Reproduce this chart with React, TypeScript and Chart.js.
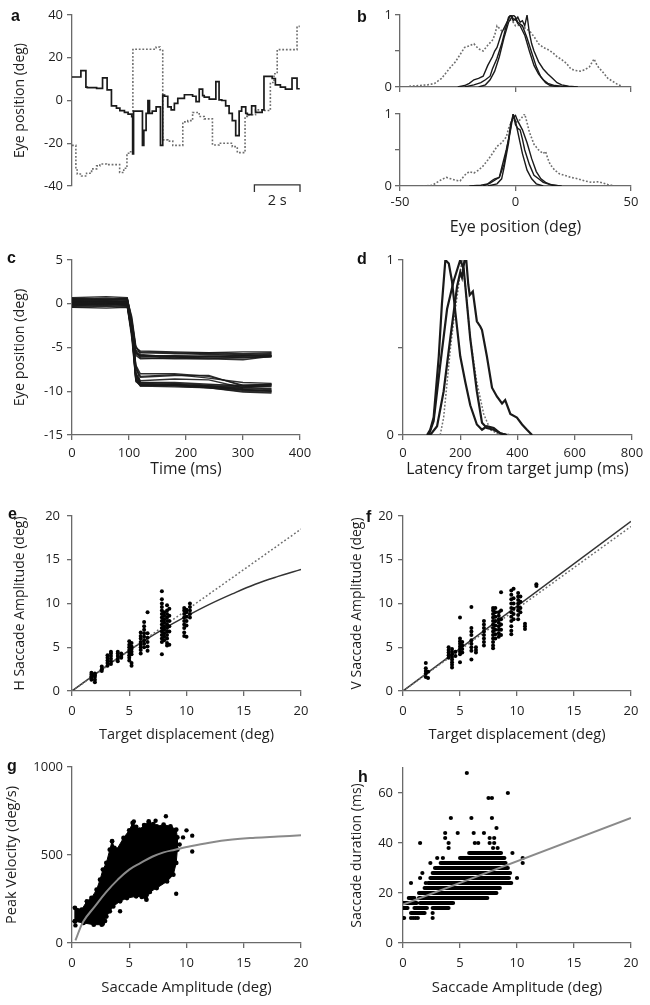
import React, { useEffect, useRef } from 'react';
import { Chart, registerables } from 'chart.js';
Chart.register(...registerables);

const FONT = '"Open Sans", "DejaVu Sans", sans-serif';
const AX = '#6a6a6a';
const TXT = '#1e1e1e';
const DARK = '#1a1a1a';
const GRAY = '#6e6e6e';

// ---------------- Panel a: eye position traces (time s, deg) ----------------
const aSolid: [number, number][] = [
  [0, 11], [0.39, 14], [0.61, 6.3], [0.67, 6], [1.08, 5.7], [1.34, 10.6], [1.54, 5], [1.73, -2.5],
  [1.95, -3.6], [2.1, -4.7], [2.3, -5.6], [2.46, -6.4], [2.62, -7.5], [2.66, -25], [2.7, -5], [3.04, -5],
  [3.09, -21], [3.15, -14], [3.25, -6], [3.33, 0], [3.4, -6], [3.52, -5], [3.69, -3], [3.88, -21],
  [3.98, 2.5], [4.06, 2], [4.2, -3], [4.35, -4.4], [4.49, -1.3], [4.64, 1], [4.93, 2.7], [5.29, 2],
  [5.44, -0.5], [5.58, 5.3], [5.73, 2.3], [5.8, 1.6], [6.02, 0.6], [6.31, 8.8], [6.45, 0.3], [6.57, 0],
  [6.74, -2.5], [6.89, -6], [7.03, -9.4], [7.18, -16.4], [7.33, -5], [7.44, -3], [7.62, -6], [7.69, -6.6],
  [7.88, -2.5], [8.05, -5.6], [8.34, -4.4], [8.42, 11.3], [8.78, 10.3], [8.92, 7.3], [9.14, 6.3],
  [9.36, 5.3], [9.65, 10.5], [9.87, 5.5], [9.99, 5.5],
];
const aDotted: [number, number][] = [
  [0, -21], [0.17, -32.5], [0.23, -34.4], [0.42, -35.3], [0.64, -34], [0.86, -32], [1.08, -30.6],
  [1.22, -29.7], [1.51, -30], [2.09, -33.7], [2.27, -31.7], [2.41, -24.7], [2.53, -24], [2.67, 23.8],
  [2.73, 24], [3.69, 25], [3.86, 23.8], [3.98, -18.4], [4.2, -19], [4.42, -21], [4.86, -10], [5.08, -9.4],
  [5.29, -5.6], [5.58, -7.5], [5.8, -8.6], [6.16, -20.8], [6.45, -20], [7.03, -21.6], [7.25, -24.4],
  [7.59, -7.5], [7.69, -6.7], [8.05, -4.4], [8.34, -4.7], [8.7, 8.4], [8.86, 12.5], [9.0, 23.8],
  [9.87, 34.7], [9.99, 34.7],
];
const aScaleBar: [number, number][] = [[8, -42.8], [8, -39.5], [10, -39.5], [10, -42.8]];
const aScaleBarLabel = '2 s';
const aScaleBarLabelY = -47;

// ---------------- Panel b: position distributions ----------------
const bTopDotted: [number, number][] = [
  [-46, 0.01], [-42, 0.02], [-38, 0.03], [-35, 0.05], [-32, 0.12], [-30, 0.2], [-28, 0.28], [-26, 0.35],
  [-24, 0.45], [-22, 0.55], [-20, 0.57], [-18, 0.6], [-16, 0.53], [-14, 0.5], [-12, 0.58], [-10, 0.65],
  [-9, 0.72], [-8, 0.85], [-6, 0.78], [-4, 0.82], [-3, 0.95], [-1, 0.9], [0, 0.85], [2, 0.86], [4, 0.82],
  [6, 0.78], [8, 0.7], [10, 0.6], [12, 0.55], [14, 0.52], [16, 0.48], [18, 0.42], [20, 0.38], [22, 0.33],
  [24, 0.25], [26, 0.23], [28, 0.22], [30, 0.24], [32, 0.28], [34, 0.39], [35, 0.32], [36, 0.27],
  [38, 0.2], [40, 0.12], [42, 0.08], [44, 0.04], [46, 0.01],
];
const bTopSolid1: [number, number][] = [
  [-25, 0], [-22, 0.02], [-20, 0.05], [-18, 0.1], [-16, 0.12], [-14, 0.15], [-12, 0.3], [-10, 0.42],
  [-9, 0.5], [-8, 0.55], [-6, 0.75], [-4, 0.88], [-2, 1.0], [-1, 0.95], [0, 0.93], [1, 0.97], [2, 0.9],
  [3, 0.92], [4, 0.85], [5, 1.0], [6, 0.75], [7, 0.6], [8, 0.5], [10, 0.35], [12, 0.25], [14, 0.18],
  [16, 0.12], [18, 0.06], [20, 0.03], [23, 0.01], [27, 0],
];
const bTopSolid2: [number, number][] = [
  [-22, 0], [-18, 0.03], [-15, 0.06], [-13, 0.1], [-11, 0.15], [-10, 0.25], [-8, 0.4], [-6, 0.6],
  [-4, 0.85], [-3, 0.97], [-2, 1.0], [-1, 0.92], [0, 0.95], [1, 0.88], [2, 0.85], [4, 0.72], [6, 0.5],
  [8, 0.3], [10, 0.18], [12, 0.1], [14, 0.05], [17, 0.02], [20, 0.01], [24, 0],
];
const bTopSolid3: [number, number][] = [
  [-16, 0], [-13, 0.03], [-11, 0.1], [-9, 0.22], [-7, 0.42], [-5, 0.68], [-3, 0.9], [-1, 1.0], [0, 0.97],
  [1, 0.9], [3, 0.85], [5, 0.68], [7, 0.48], [9, 0.28], [11, 0.14], [13, 0.06], [15, 0.02], [19, 0],
];
const bBotDotted: [number, number][] = [
  [-40, 0], [-36, 0.01], [-34, 0.05], [-32, 0.09], [-30, 0.12], [-28, 0.1], [-26, 0.08], [-24, 0.07],
  [-22, 0.15], [-20, 0.2], [-18, 0.18], [-16, 0.22], [-14, 0.28], [-12, 0.36], [-10, 0.45], [-8, 0.55],
  [-6, 0.6], [-4, 0.68], [-3, 0.8], [-1, 0.95], [0, 0.88], [1, 0.9], [2, 0.92], [4, 1.0], [5, 0.88],
  [6, 0.75], [8, 0.58], [10, 0.5], [12, 0.45], [13, 0.48], [14, 0.38], [15, 0.3], [17, 0.22], [19, 0.17],
  [21, 0.15], [24, 0.12], [27, 0.1], [30, 0.07], [33, 0.05], [36, 0.06], [38, 0.04], [40, 0.02], [43, 0],
];
const bBotSolid1: [number, number][] = [
  [-20, 0], [-15, 0.01], [-12, 0.03], [-10, 0.08], [-9, 0.1], [-7, 0.12], [-6, 0.25], [-4, 0.5],
  [-2, 0.8], [-1, 1.0], [0, 0.85], [1, 0.8], [2, 0.78], [3, 0.65], [4, 0.5], [6, 0.3], [8, 0.15],
  [10, 0.1], [12, 0.05], [15, 0.02], [19, 0],
];
const bBotSolid2: [number, number][] = [
  [-12, 0], [-8, 0.03], [-6, 0.1], [-5, 0.25], [-3, 0.6], [-2, 0.85], [-1, 1.0], [0, 0.9], [1, 0.75],
  [2, 0.6], [3, 0.45], [5, 0.22], [7, 0.1], [9, 0.03], [12, 0],
];
const bBotSolid3: [number, number][] = [
  [-14, 0], [-11, 0.04], [-9, 0.08], [-7, 0.12], [-5, 0.3], [-3, 0.65], [-2, 0.88], [-1, 0.95], [0, 0.98],
  [1, 0.9], [3, 0.78], [5, 0.6], [7, 0.38], [9, 0.2], [11, 0.1], [13, 0.05], [16, 0.01], [20, 0],
];

// ---------------- Panel c: saccade traces (ms, deg) ----------------
const cKnots = [0, 60, 97, 105, 112, 120, 180, 240, 300, 350];
const cUpper: number[][] = [
  [0.3, 0.4, 0.3, -2, -5, -5.5, -5.6, -5.7, -5.8, -5.7],
  [-0.2, -0.1, 0, -2.5, -5.4, -5.9, -6.0, -6.1, -6.0, -5.9],
  [0.5, 0.6, 0.5, -1.5, -4.8, -5.8, -6.1, -6.2, -6.2, -6.0],
  [0, 0.1, 0.2, -3, -5.6, -6.2, -6.3, -6.3, -6.1, -6.0],
  [-0.4, -0.3, -0.4, -3.5, -5.9, -6.3, -6.2, -6.0, -5.9, -5.8],
  [0.2, 0.3, 0.1, -2.2, -5.3, -5.6, -5.7, -5.6, -5.5, -5.5],
  [0.6, 0.5, 0.6, -1.8, -5.0, -5.4, -5.5, -5.6, -5.7, -5.6],
  [-0.1, 0, -0.2, -2.8, -5.7, -6.0, -6.2, -6.3, -6.4, -6.0],
  [0.4, 0.2, 0.3, -2.4, -5.5, -6.1, -5.9, -5.8, -5.9, -5.9],
  [0.1, 0.2, 0.0, -2.6, -5.6, -5.9, -6.0, -6.0, -6.1, -6.1],
];
const cLower: number[][] = [
  [0.2, 0.3, 0.2, -3, -7, -9.0, -9.1, -9.3, -9.3, -9.3],
  [-0.3, -0.2, -0.3, -3.5, -8, -9.2, -9.3, -9.5, -9.6, -9.4],
  [0.5, 0.4, 0.6, -2.5, -7.5, -8.4, -8.2, -8.2, -9.4, -9.5],
  [0, 0.1, 0, -3.2, -8.5, -9.3, -9.2, -9.4, -9.8, -10.0],
  [0.7, 0.8, 0.7, -2, -7, -8.0, -8.0, -8.3, -9.3, -9.2],
  [-0.4, -0.5, -0.4, -4, -8.8, -9.4, -9.5, -9.6, -10.0, -10.1],
  [0.3, 0.2, 0.3, -2.8, -8.2, -9.0, -9.0, -9.2, -9.4, -9.2],
  [0.1, 0, 0.1, -3.4, -8.7, -9.3, -9.3, -9.5, -9.9, -9.9],
  [-0.2, -0.1, -0.2, -3, -8, -8.8, -8.6, -8.7, -9.6, -9.7],
  [0.4, 0.5, 0.4, -2.6, -7.8, -9.1, -9.2, -9.6, -10.1, -10.2],
  [0.2, 0.3, 0.2, -3.1, -8.4, -9.2, -9.3, -9.4, -9.5, -9.3],
  [-0.1, 0, -0.1, -3.3, -8.6, -9.4, -9.3, -9.4, -9.7, -9.8],
  [0.6, 0.5, 0.6, -2.3, -7.2, -8.3, -8.1, -8.5, -9.0, -9.1],
  [0, -0.1, 0, -3.6, -8.9, -9.3, -9.4, -9.6, -9.8, -10.0],
];

// ---------------- Panel d: latency distributions ----------------
const dSolid1: [number, number][] = [
  [84, 0], [95, 0.03], [107, 0.1], [125, 0.45], [136, 0.75], [148, 1.0], [160, 0.98], [171, 0.88],
  [183, 0.7], [200, 0.45], [218, 0.3], [235, 0.17], [258, 0.06], [276, 0.03], [293, 0.05], [317, 0.04],
  [340, 0.01], [363, 0],
];
const dSolid2: [number, number][] = [
  [90, 0], [107, 0.08], [130, 0.4], [154, 0.72], [177, 0.88], [200, 1.0], [212, 0.95], [235, 0.55],
  [258, 0.25], [276, 0.07], [293, 0.04], [317, 0.03], [340, 0.01], [363, 0],
];
const dSolid3: [number, number][] = [
  [95, 0], [119, 0.05], [142, 0.25], [165, 0.55], [189, 0.85], [200, 0.93], [206, 0.9], [215, 1.0],
  [221, 1.0], [228, 0.86], [233, 0.8], [244, 0.82], [258, 0.65], [270, 0.62], [276, 0.6], [293, 0.45],
  [311, 0.27], [328, 0.22], [346, 0.18], [357, 0.2], [375, 0.12], [398, 0.1], [416, 0.06], [433, 0.03],
  [451, 0],
];
const dDotted: [number, number][] = [
  [130, 0], [142, 0.1], [154, 0.3], [166, 0.5], [177, 0.65], [194, 0.85], [206, 1.0], [218, 0.85],
  [235, 0.55], [258, 0.3], [282, 0.12], [305, 0.03], [328, 0.01], [387, 0],
];

// ---------------- Panel e: H saccade amplitude ----------------
const eClusters: [number, number[]][] = [
  [1.7, [1.3, 1.5, 1.7, 1.9, 2.1]],
  [2.0, [1.0, 1.3, 1.6, 1.8, 2.0]],
  [2.6, [2.3, 2.5, 2.8]],
  [3.1, [2.9, 3.2, 3.5, 3.8, 4.1]],
  [3.4, [3.1, 3.4, 3.7, 4.0, 4.3, 4.5]],
  [4.0, [3.4, 3.7, 4.0, 4.3, 4.5]],
  [4.3, [3.8, 4.0, 4.3]],
  [5.0, [3.5, 3.8, 4.1, 4.4, 4.7, 5.0, 5.3, 5.7]],
  [5.2, [2.9, 3.2, 4.2, 4.5, 4.8, 5.1, 5.5]],
  [6.0, [4.3, 4.7, 5.0, 5.3, 5.6, 6.0, 6.3, 6.7]],
  [6.3, [5.0, 5.4, 5.8, 6.2, 6.6, 7.0, 7.4, 7.9]],
  [6.6, [4.6, 5.1, 5.6, 6.1, 6.6, 9.0]],
  [7.85, [4.2, 5.6, 6.0, 6.4, 6.8, 7.2, 7.6, 8.0, 8.4, 8.8, 9.2, 9.6, 10.0, 10.5, 11.4]],
  [8.05, [5.8, 6.2, 6.6, 7.0, 7.4, 7.8, 8.2, 8.6, 9.0]],
  [8.3, [5.2, 5.5, 6.0, 6.4, 6.8, 7.2, 7.6, 8.0, 8.4, 8.8, 9.2, 9.8]],
  [8.5, [5.3, 6.8, 7.4, 8.0, 8.6, 9.4]],
  [9.8, [6.3, 6.7, 7.2, 7.6, 8.0, 8.4, 8.8, 9.2, 9.5]],
  [10.0, [6.2, 7.5, 8.0, 8.5, 9.0, 9.3]],
  [10.3, [8.4, 8.8, 9.2, 9.6, 10.0]],
];
const eUnity: [number, number][] = [[0, 0], [20, 18.5]];
const eFit: [number, number][] = [
  [0, 0], [2, 1.9], [4, 3.75], [6, 5.5], [8, 7.1], [10, 8.55], [12, 9.9], [14, 11.1], [16, 12.2],
  [18, 13.1], [20, 13.9],
];

// ---------------- Panel f: V saccade amplitude ----------------
const fClusters: [number, number[]][] = [
  [2.0, [1.6, 2.0, 2.3, 2.6, 3.2]],
  [2.2, [1.5, 2.2]],
  [4.0, [3.8, 4.1, 4.4, 4.7, 5.0]],
  [4.3, [2.7, 3.0, 3.3, 3.6, 3.9, 4.2, 4.5, 4.8]],
  [4.6, [4.0, 4.5]],
  [5.0, [3.3, 4.2, 4.5, 4.8, 5.1, 5.4, 5.7, 6.0, 8.4]],
  [5.2, [4.4, 4.8, 5.2, 5.6]],
  [6.0, [3.6, 4.6, 5.0, 5.4, 5.8, 6.4, 6.8, 7.2, 9.6]],
  [6.4, [4.4, 4.7, 5.0]],
  [7.1, [5.2, 5.6, 6.0, 6.4, 6.8, 7.2, 7.6, 8.0]],
  [7.9, [4.9, 5.2, 5.6, 6.0, 6.4, 6.8, 7.2, 7.6, 8.0, 8.4, 8.8, 9.2, 9.5]],
  [8.1, [6.0, 6.5, 7.0, 7.5, 8.0, 8.5, 9.0, 9.5]],
  [8.4, [6.2, 6.6, 7.0, 7.4, 7.8, 8.2, 8.6, 9.0]],
  [8.6, [6.4, 7.0, 7.6, 8.2, 9.2, 11.3]],
  [9.5, [6.5, 6.9, 7.4, 8.0, 8.5, 9.0, 9.5, 10.0, 10.5, 11.0, 11.5]],
  [9.7, [8.2, 8.8, 9.4, 10.0, 10.6, 11.7]],
  [10.1, [8.2, 8.7, 9.2, 9.6, 10.0, 10.4, 10.8, 11.2]],
  [10.3, [9.0, 9.5, 10.2, 10.8]],
  [10.7, [7.1, 7.4, 7.7]],
  [11.7, [12.0, 12.2]],
];
const fFit: [number, number][] = [[0, 0], [20, 19.4]];
const fUnity: [number, number][] = [[0, 0], [20, 18.8]];

// ---------------- Panel g: main sequence (peak velocity) ----------------
const gBlob: [number, number][] = [
  [0.25, 123], [0.25, 200], [0.85, 190], [1.3, 237], [1.7, 256], [2.15, 303], [2.45, 360], [2.7, 417],
  [3.0, 455], [3.3, 530], [3.5, 578], [3.7, 540], [3.9, 530], [4.5, 597], [5.0, 640], [5.3, 682],
  [5.6, 660], [5.9, 644], [6.3, 670], [6.7, 691], [7.1, 675], [7.4, 663], [8.0, 672], [8.6, 663],
  [9.1, 644], [9.2, 600], [9.2, 530], [9.1, 455], [8.85, 388], [8.3, 350], [7.4, 312], [6.8, 290],
  [6.5, 246], [6.1, 262], [5.6, 265], [4.8, 255], [4.2, 237], [3.6, 208], [3.3, 180], [3.0, 150],
  [2.6, 104], [1.9, 104], [1.0, 114], [0.25, 123],
];
const gOutliers: [number, number][] = [
  [9.1, 280], [10.5, 520], [10.5, 610], [10.0, 640], [8.2, 720], [4.2, 180], [2.7, 110], [1.6, 230],
  [5.4, 690], [7.3, 695], [9.7, 600], [9.4, 560], [0.3, 100], [2.9, 125],
];
const gFit: [number, number][] = [
  [0.3, 15], [1, 123], [2, 208], [3, 290], [4, 360], [5, 417], [6, 455], [7, 490], [8, 515], [9, 530],
  [10, 545], [12, 570], [14, 588], [16, 598], [18, 605], [20, 612],
];

// ---------------- Panel h: saccade duration ----------------
const hRows: [number, number, number][] = [
  [12, 0.7, 1.9], [14, 0, 0.4], [14, 1.0, 2.1], [14, 2.6, 4.0], [16, 0, 1.2], [16, 1.5, 4.4],
  [18, 0.5, 1.0], [18, 1.4, 7.4], [20, 1.4, 8.2], [22, 2.0, 8.5], [24, 2.2, 9.5], [26, 2.4, 9.3],
  [28, 2.6, 9.4], [30, 2.8, 9.2], [32, 3.3, 9.0], [34, 5.0, 8.9], [36, 5.8, 8.6],
];
const hPoints: [number, number][] = [
  [0.1, 10], [0.7, 10], [0.9, 10], [1.1, 10], [1.3, 10], [2.6, 10], [2.6, 12], [0.1, 14], [0.7, 24],
  [1.5, 26], [1.7, 28], [1.5, 40], [3.5, 34], [3.7, 42], [3.7, 44], [4.0, 40], [4.0, 38], [4.8, 44],
  [4.2, 50], [6.0, 50], [7.8, 50], [6.2, 44], [7.1, 44], [6.3, 40], [6.6, 40], [7.6, 40], [8.0, 40],
  [7.6, 42], [8.0, 42], [8.2, 46], [7.9, 38], [8.3, 38], [7.5, 58], [7.8, 58], [9.2, 60], [5.6, 68],
  [10.0, 26], [10.5, 32], [10.5, 34], [9.6, 36], [2.4, 32], [1.9, 22], [2.0, 24], [3.0, 34],
];
const hFit: [number, number][] = [[0, 15.4], [20, 50]];

// ---------------- helpers ----------------
type Rect = { left: number; top: number; width: number; height: number };
type Area = { x0: number; x1: number; y0: number; y1: number };

const pts = (a: [number, number][]) => a.map(([x, y]) => ({ x, y }));

function lineDs(data: [number, number][], color: string, width: number, dash: number[] = [], extra: any = {}) {
  return {
    data: pts(data), borderColor: color, backgroundColor: color, borderWidth: width, borderDash: dash,
    pointRadius: 0, tension: 0, fill: false, ...extra,
  };
}
function dotDs(data: [number, number][], r = 1.9, color = '#000') {
  return {
    data: pts(data), showLine: false, pointRadius: r, pointBackgroundColor: color, pointBorderWidth: 0,
    borderColor: color, backgroundColor: color,
  };
}
const clusterPts = (cl: [number, number[]][]) =>
  cl.flatMap(([x, ys]) => ys.map((y) => [x, y] as [number, number]));

function axis(kind: 'x' | 'y', o: any) {
  return {
    type: 'linear',
    display: o.display ?? true,
    min: o.min,
    max: o.max,
    afterFit: (s: any) => {
      if (kind === 'y') s.width = o.size;
      else s.height = o.size;
    },
    border: { display: true, color: AX, width: 1.3 },
    grid: { display: true, drawOnChartArea: false, drawTicks: true, tickLength: 5, color: AX, lineWidth: 1.3 },
    ticks: {
      stepSize: o.step, includeBounds: false, autoSkip: false, maxRotation: 0, minRotation: 0,
      padding: o.tickPad ?? 4, color: TXT, font: { family: FONT, size: 13 },
      callback: (v: number) => (o.show && !o.show(v) ? '' : String(v)),
    },
    title: {
      display: !!o.title, text: o.title ?? '', color: TXT,
      font: { family: FONT, size: o.titleSize ?? 15 },
      padding: kind === 'y' ? { top: o.titlePad ?? 0, bottom: 0 } : { top: 0, bottom: o.titlePad ?? 0 },
    },
  };
}

function cfg(rect: Rect, area: Area, xH: number, scales: any, datasets: any[], plugins: any[] = []) {
  return {
    type: 'line',
    data: { datasets },
    plugins,
    options: {
      responsive: false, animation: false, devicePixelRatio: 1, events: [],
      layout: {
        padding: {
          left: 0, top: area.y0 - rect.top, right: rect.left + rect.width - area.x1,
          bottom: rect.top + rect.height - area.y1 - xH,
        },
      },
      plugins: { legend: { display: false }, tooltip: { enabled: false } },
      scales,
    },
  };
}

const scaleBarLabelPlugin = {
  id: 'scaleBarLabel',
  afterDatasetsDraw(chart: any) {
    const { ctx, scales } = chart;
    const x = scales.x.getPixelForValue((aScaleBar[0][0] + aScaleBar[2][0]) / 2);
    const y = scales.y.getPixelForValue(aScaleBarLabelY);
    ctx.save();
    ctx.font = `14.5px ${FONT}`;
    ctx.fillStyle = TXT;
    ctx.textAlign = 'center';
    ctx.textBaseline = 'middle';
    ctx.fillText(aScaleBarLabel, x, y);
    ctx.restore();
  },
};

// ---------------- panels ----------------
type PanelDef = { rect: Rect; make: () => any };

const panelA: PanelDef = (() => {
  const rect = { left: 0, top: 0, width: 325, height: 240 };
  const area = { x0: 72, x1: 300, y0: 15, y1: 186 };
  return {
    rect,
    make: () => cfg(rect, area, 0, {
      x: axis('x', { min: 0, max: 10, step: 1, size: 0, display: false }),
      y: axis('y', { min: -40, max: 40, step: 20, size: area.x0 - rect.left, title: 'Eye position (deg)', titleSize: 14, titlePad: 11.6 }),
    }, [
      lineDs(aSolid, DARK, 1.7, [], { stepped: true }),
      lineDs(aDotted, GRAY, 1.6, [1.8, 1.8], { stepped: true }),
      lineDs(aScaleBar, '#333', 1.3, [], { clip: false }),
    ], [scaleBarLabelPlugin]),
  };
})();

const panelBTop: PanelDef = (() => {
  const rect = { left: 325, top: 0, width: 325, height: 100 };
  const area = { x0: 400, x1: 631, y0: 15, y1: 87 };
  return {
    rect,
    make: () => cfg(rect, area, 8, {
      x: axis('x', { min: -50, max: 50, step: 50, size: 8, show: () => false }),
      y: axis('y', { min: 0, max: 1, step: 0.5, size: area.x0 - rect.left, show: (v: number) => v !== 0.5, tickPad: 3 }),
    }, [
      lineDs(bTopSolid1, DARK, 1.4),
      lineDs(bTopSolid2, DARK, 1.4),
      lineDs(bTopSolid3, DARK, 1.4),
      lineDs(bTopDotted, GRAY, 1.6, [1.8, 1.8]),
    ]),
  };
})();

const panelBBot: PanelDef = (() => {
  const rect = { left: 325, top: 100, width: 325, height: 140 };
  const area = { x0: 400, x1: 631, y0: 114, y1: 186 };
  return {
    rect,
    make: () => cfg(rect, area, 50.6, {
      x: axis('x', { min: -50, max: 50, step: 50, size: 50.6, title: 'Eye position (deg)', titleSize: 16, tickPad: 3 }),
      y: axis('y', { min: 0, max: 1, step: 0.5, size: area.x0 - rect.left, show: (v: number) => v !== 0.5, tickPad: 3 }),
    }, [
      lineDs(bBotSolid1, DARK, 1.4),
      lineDs(bBotSolid2, DARK, 1.4),
      lineDs(bBotSolid3, DARK, 1.4),
      lineDs(bBotDotted, GRAY, 1.6, [1.8, 1.8]),
    ]),
  };
})();

const panelC: PanelDef = (() => {
  const rect = { left: 0, top: 240, width: 325, height: 250 };
  const area = { x0: 72, x1: 300, y0: 260, y1: 435 };
  const traces = [...cUpper, ...cLower].map((tr) =>
    lineDs(cKnots.map((t, i) => [t, tr[i]] as [number, number]), 'rgba(25,25,25,0.9)', 1.3));
  return {
    rect,
    make: () => cfg(rect, area, 44.4, {
      x: axis('x', { min: 0, max: 400, step: 100, size: 44.4, title: 'Time (ms)', titleSize: 15.7, tickPad: 5.5 }),
      y: axis('y', { min: -15, max: 5, step: 5, size: area.x0 - rect.left, title: 'Eye position (deg)', titleSize: 14.3, titlePad: 11.4 }),
    }, traces),
  };
})();

const panelD: PanelDef = (() => {
  const rect = { left: 325, top: 240, width: 325, height: 250 };
  const area = { x0: 403, x1: 632, y0: 260, y1: 435 };
  return {
    rect,
    make: () => cfg(rect, area, 43.5, {
      x: axis('x', { min: 0, max: 800, step: 200, size: 43.5, title: 'Latency from target jump (ms)', titleSize: 15.8, tickPad: 5.5 }),
      y: axis('y', { min: 0, max: 1, step: 0.5, size: area.x0 - rect.left, show: (v: number) => v !== 0.5, tickPad: 4 }),
    }, [
      lineDs(dSolid1, DARK, 2.2),
      lineDs(dSolid2, DARK, 2.2),
      lineDs(dSolid3, DARK, 2.2),
      lineDs(dDotted, GRAY, 1.5, [1.8, 1.8]),
    ]),
  };
})();

const panelE: PanelDef = (() => {
  const rect = { left: 0, top: 490, width: 325, height: 260 };
  const area = { x0: 72, x1: 301, y0: 516, y1: 691 };
  return {
    rect,
    make: () => cfg(rect, area, 53, {
      x: axis('x', { min: 0, max: 20, step: 5, size: 53, title: 'Target displacement (deg)', titleSize: 14.5, tickPad: 7 }),
      y: axis('y', { min: 0, max: 20, step: 5, size: area.x0 - rect.left, title: 'H Saccade Amplitude (deg)', titleSize: 14, titlePad: 11.6, tickPad: 7 }),
    }, [
      dotDs(clusterPts(eClusters), 2),
      lineDs(eUnity, GRAY, 1.5, [1.8, 2.2]),
      lineDs(eFit, '#333', 1.5, [], { tension: 0.4 }),
    ]),
  };
})();

const panelF: PanelDef = (() => {
  const rect = { left: 325, top: 490, width: 325, height: 260 };
  const area = { x0: 403, x1: 631, y0: 516, y1: 691 };
  return {
    rect,
    make: () => cfg(rect, area, 53, {
      x: axis('x', { min: 0, max: 20, step: 5, size: 53, title: 'Target displacement (deg)', titleSize: 14.7, tickPad: 7 }),
      y: axis('y', { min: 0, max: 20, step: 5, size: area.x0 - rect.left, title: 'V Saccade Amplitude (deg)', titleSize: 14, titlePad: 23.6, tickPad: 5 }),
    }, [
      dotDs(clusterPts(fClusters), 2),
      lineDs(fUnity, GRAY, 1.5, [1.8, 2.2]),
      lineDs(fFit, '#333', 1.5),
    ]),
  };
})();

const panelG: PanelDef = (() => {
  const rect = { left: 0, top: 750, width: 325, height: 255 };
  const area = { x0: 72, x1: 301, y0: 767, y1: 943 };
  return {
    rect,
    make: () => cfg(rect, area, 53.3, {
      x: axis('x', { min: 0, max: 20, step: 5, size: 53.3, title: 'Saccade Amplitude (deg)', titleSize: 14.9, tickPad: 7 }),
      y: axis('y', { min: 0, max: 1000, step: 500, size: area.x0 - rect.left, title: 'Peak Velocity (deg/s)', titleSize: 14.5, titlePad: 3.4, tickPad: 4 }),
    }, [
      lineDs(gFit, '#8a8a8a', 2, [], { tension: 0.4 }),
      dotDs(gOutliers, 2.2),
      {
        data: pts(gBlob), borderColor: '#000', backgroundColor: '#000', borderWidth: 1,
        pointRadius: 2.4, pointBackgroundColor: '#000', pointBorderWidth: 0, tension: 0, fill: 'shape',
      },
    ]),
  };
})();

const panelH: PanelDef = (() => {
  const rect = { left: 325, top: 750, width: 325, height: 255 };
  const area = { x0: 403, x1: 631, y0: 768, y1: 943 };
  const rowData = hRows.flatMap(([d, x0, x1]) => [{ x: x0, y: d }, { x: x1, y: d }, { x: x1, y: null }]);
  return {
    rect,
    make: () => cfg(rect, area, 53.3, {
      x: axis('x', { min: 0, max: 20, step: 5, size: 53.3, title: 'Saccade Amplitude (deg)', titleSize: 14.9, tickPad: 7 }),
      y: axis('y', { min: 0, max: 70, step: 20, size: area.x0 - rect.left, title: 'Saccade duration (ms)', titleSize: 14, titlePad: 24, tickPad: 5 }),
    }, [
      lineDs(hFit, '#8a8a8a', 2),
      dotDs(hPoints, 2.1),
      {
        data: rowData, borderColor: '#000', backgroundColor: '#000', borderWidth: 4, borderCapStyle: 'round',
        pointRadius: 0, spanGaps: false, tension: 0, fill: false,
      },
    ]),
  };
})();

const PANELS: PanelDef[] = [panelA, panelBTop, panelBBot, panelC, panelD, panelE, panelF, panelG, panelH];

const LETTERS = [
  { t: 'a', x: 11, y: 7.5 }, { t: 'b', x: 357, y: 8.5 },
  { t: 'c', x: 7, y: 249.5 }, { t: 'd', x: 357, y: 250.5 },
  { t: 'e', x: 8, y: 506 }, { t: 'f', x: 366, y: 508.5 },
  { t: 'g', x: 7, y: 757.5 }, { t: 'h', x: 358, y: 768.5 },
];

function ChartCanvas({ def }: { def: PanelDef }) {
  const ref = useRef<HTMLCanvasElement>(null);
  useEffect(() => {
    const chart = new Chart(ref.current as HTMLCanvasElement, def.make());
    return () => chart.destroy();
  }, []);
  const r = def.rect;
  return (
    <canvas
      ref={ref}
      width={r.width}
      height={r.height}
      style={{ position: 'absolute', left: r.left, top: r.top, width: r.width, height: r.height }}
    />
  );
}

export default function App() {
  return (
    <div style={{ position: 'absolute', left: 0, top: 0, width: 650, height: 1005, background: '#fff', overflow: 'hidden' }}>
      {PANELS.map((p, i) => <ChartCanvas key={i} def={p} />)}
      {LETTERS.map((l) => (
        <div
          key={l.t}
          style={{
            position: 'absolute', left: l.x, top: l.y, fontFamily: '"Liberation Sans", Arial, sans-serif',
            fontWeight: 'bold', fontSize: 16, lineHeight: '16px', color: '#111',
          }}
        >
          {l.t}
        </div>
      ))}
    </div>
  );
}
